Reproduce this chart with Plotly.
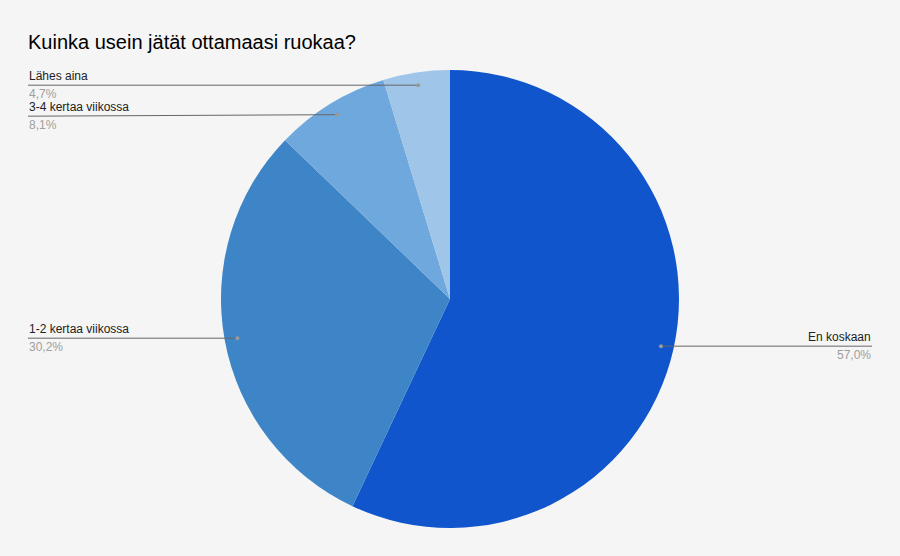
"""Piirakkakaavio: Kuinka usein jätät ottamaasi ruokaa?"""

import math

import plotly.graph_objects as go

W, H = 900, 556

categories = ["En koskaan", "1-2 kertaa viikossa", "3-4 kertaa viikossa", "Lähes aina"]
values = [57.0, 30.2, 8.1, 4.7]
colors = ["#1155cc", "#3d85c6", "#6fa8dc", "#9fc5e8"]
title = "Kuinka usein jätät ottamaasi ruokaa?"

# piirakan paikka pikseleinä
CX, CY, R = 450, 299, 229
FONT = "Liberation Sans, Arial, sans-serif"
MIN_GAP = 31  # etiketit eivät saa mennä päällekkäin


def px(x, y):
    return x / W, 1 - y / H


fig = go.Figure()
fig.add_trace(
    go.Pie(
        labels=categories,
        values=values,
        sort=False,
        direction="clockwise",
        rotation=0,
        marker=dict(colors=colors, line=dict(width=0)),
        textinfo="none",
        hoverinfo="label+percent",
        showlegend=False,
        domain=dict(x=[(CX - R) / W, (CX + R) / W], y=[1 - (CY + R) / H, 1 - (CY - R) / H]),
    )
)

# lasketaan pisteet siivujen keskikulmista
total = sum(values)
cum = 0.0
items = []
for name, v in zip(categories, values):
    mid = (cum + v / 2) / total * 2 * math.pi
    cum += v
    dx = CX + 0.944 * R * math.sin(mid)
    dy = CY - 0.944 * R * math.cos(mid)
    pct = f"{v / total * 100:.1f}%".replace(".", ",")
    items.append(dict(name=name, pct=pct, dx=dx, dy=dy, right=math.sin(mid) > 0, ly=dy))

# työnnetään saman puolen etiketit erilleen ylhäältä alas
for side in (True, False):
    side_items = sorted([it for it in items if it["right"] == side], key=lambda it: it["dy"])
    for prev, cur in zip(side_items, side_items[1:]):
        if cur["ly"] - prev["ly"] < MIN_GAP:
            cur["ly"] = prev["ly"] + MIN_GAP

shapes = []
annotations = []
for it in items:
    edge = 872 if it["right"] else 28
    x0, y0 = px(edge, it["ly"])
    x1, y1 = px(it["dx"], it["dy"])
    shapes.append(dict(type="line", xref="paper", yref="paper", x0=x0, y0=y0, x1=x1, y1=y1,
                       line=dict(color="#666666", width=1)))
    cx0, cy0 = px(it["dx"] - 2, it["dy"] - 2)
    cx1, cy1 = px(it["dx"] + 2, it["dy"] + 2)
    shapes.append(dict(type="circle", xref="paper", yref="paper", x0=cx0, y0=cy0, x1=cx1, y1=cy1,
                       fillcolor="#999999", line=dict(width=0)))
    anchor = "right" if it["right"] else "left"
    tx = px(edge + (1 if it["right"] else -1), 0)[0]
    annotations.append(dict(xref="paper", yref="paper", x=tx, y=px(0, it["ly"] - 9)[1],
                            text=it["name"], showarrow=False, xanchor=anchor, yanchor="middle",
                            font=dict(family=FONT, size=12, color="#222222")))
    annotations.append(dict(xref="paper", yref="paper", x=tx, y=px(0, it["ly"] + 9)[1],
                            text=it["pct"], showarrow=False, xanchor=anchor, yanchor="middle",
                            font=dict(family=FONT, size=12, color="#9e9e9e")))

annotations.append(dict(xref="paper", yref="paper", x=px(26, 0)[0], y=px(0, 42)[1], text=title,
                        showarrow=False, xanchor="left", yanchor="middle",
                        font=dict(family=FONT, size=20, color="#000000")))

fig.update_layout(
    width=W,
    height=H,
    margin=dict(l=0, r=0, t=0, b=0),
    paper_bgcolor="#f5f5f5",
    plot_bgcolor="#f5f5f5",
    shapes=shapes,
    annotations=annotations,
)

fig.write_html(
    "out.html",
    config=dict(displayModeBar=False),
    post_script="document.body.style.margin='0';document.body.style.overflow='hidden';",
)
